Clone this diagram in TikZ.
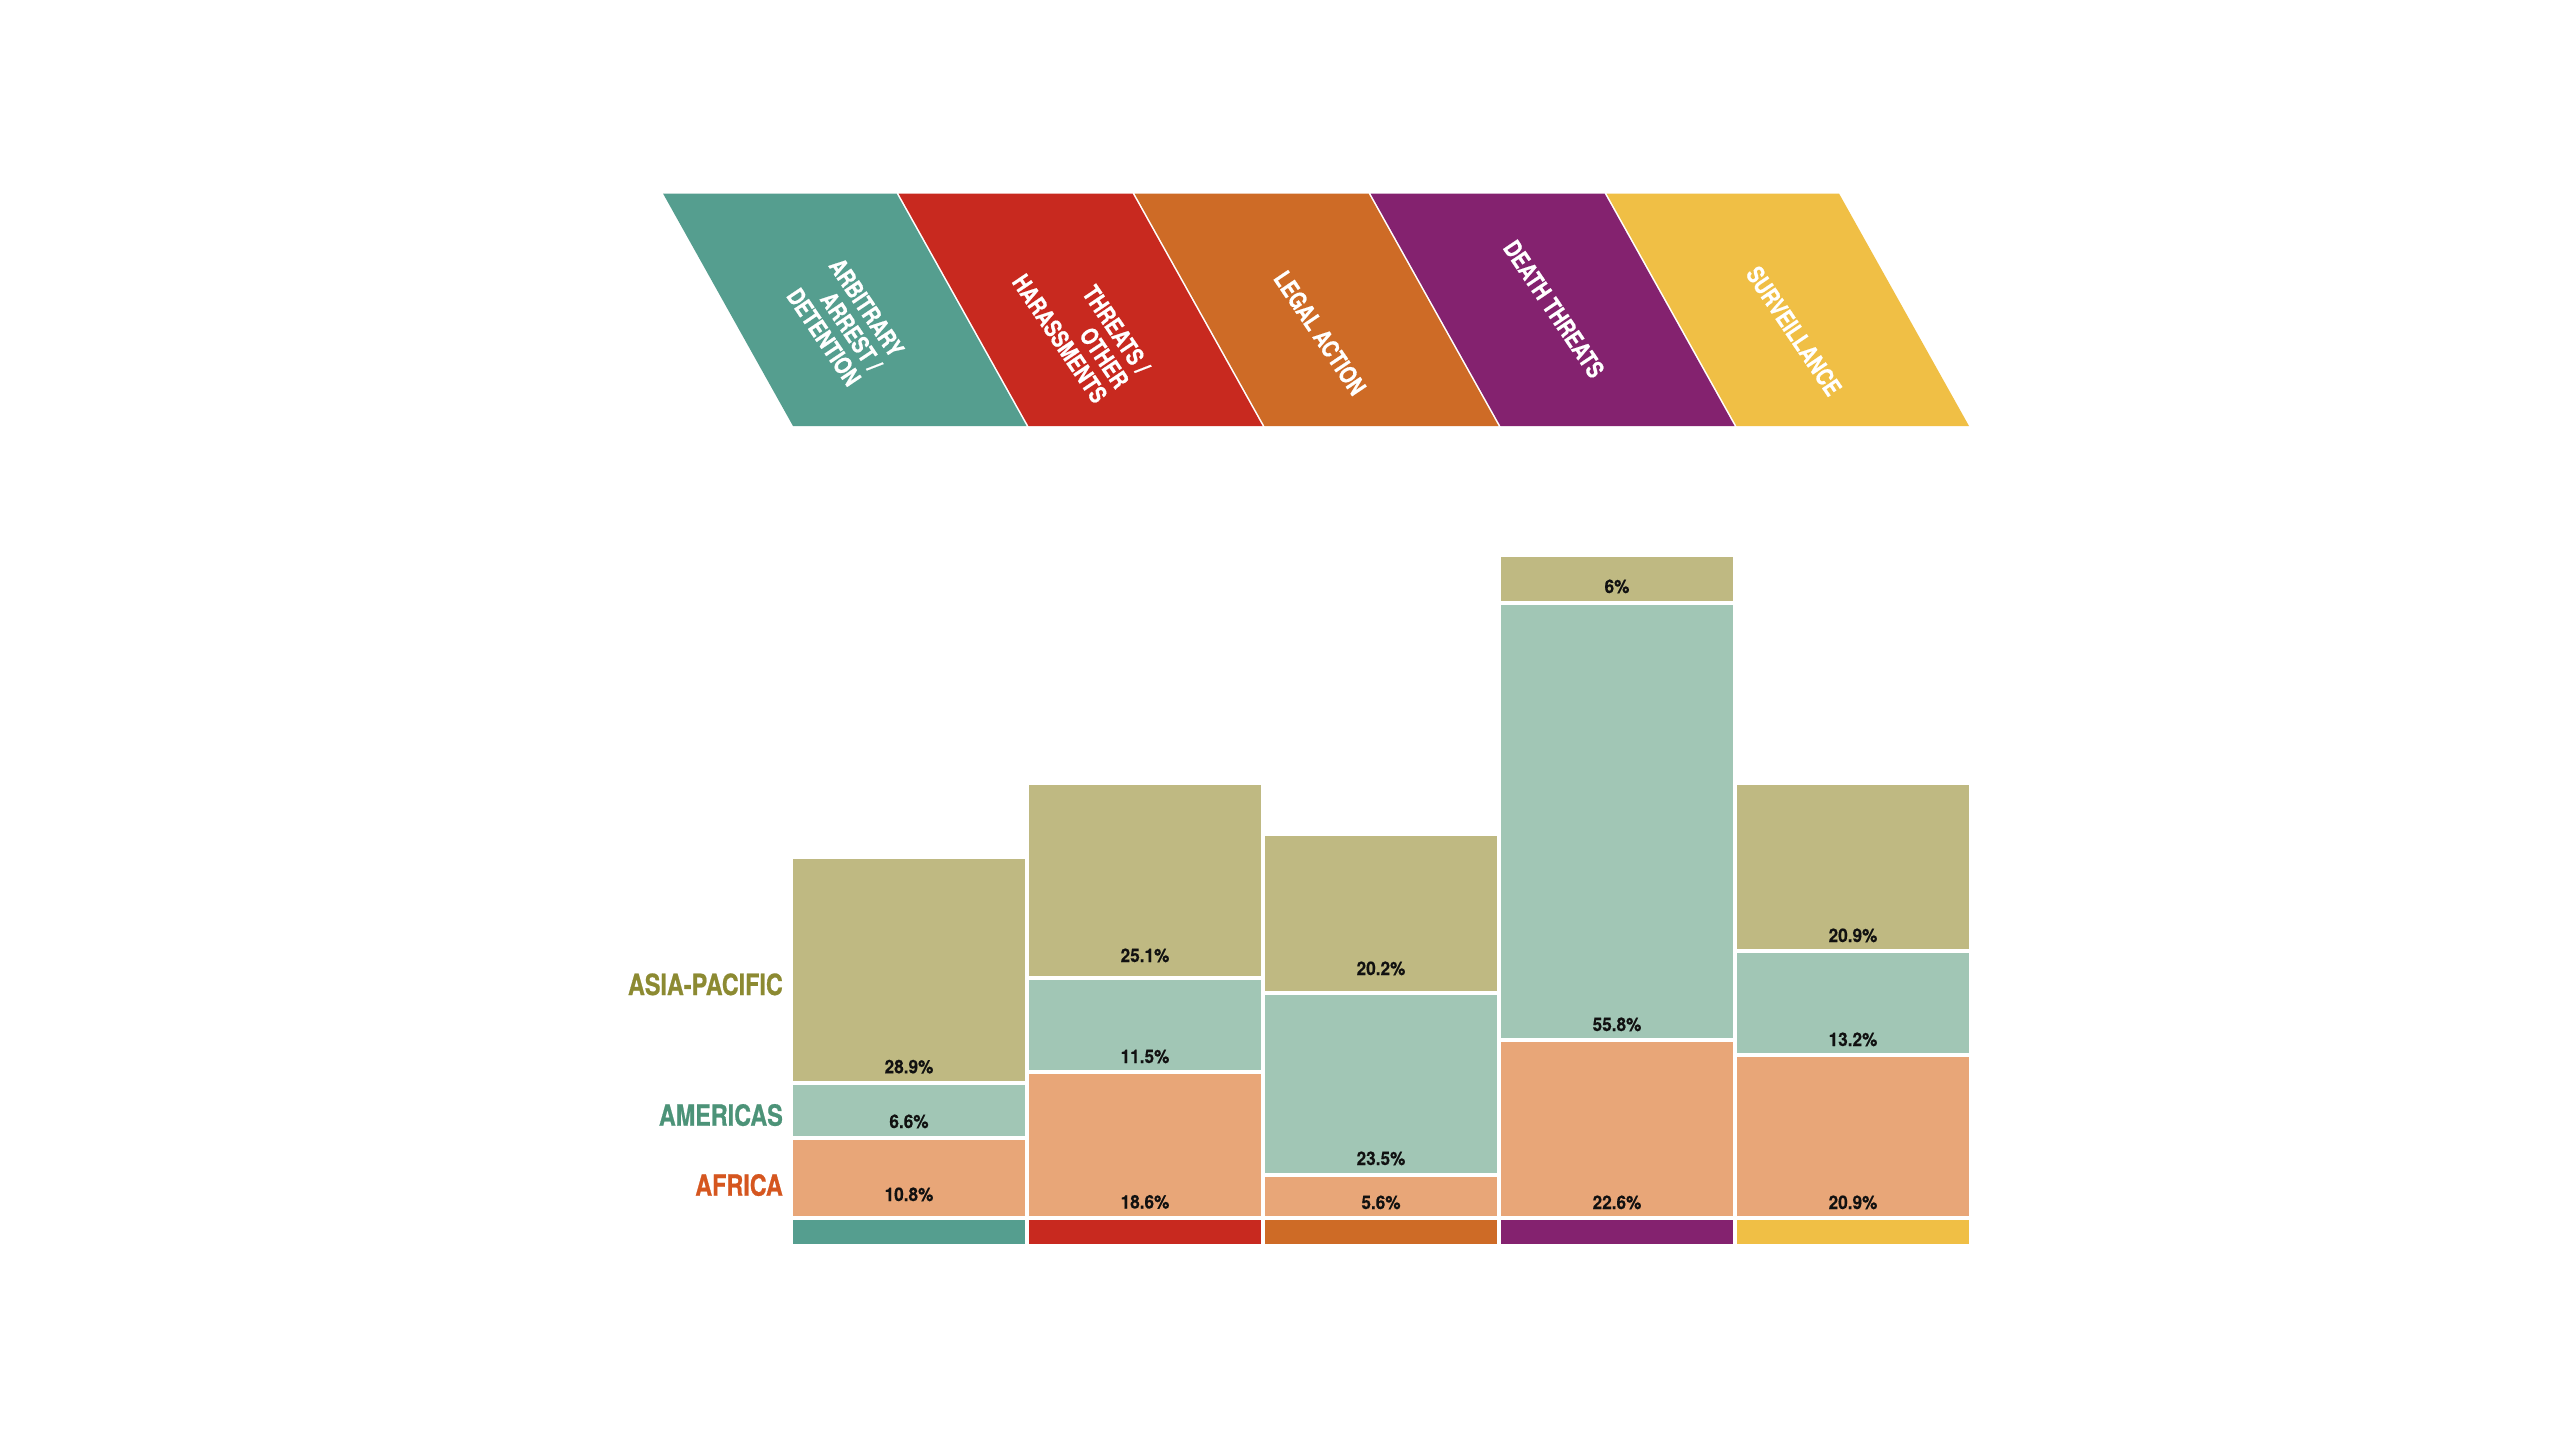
\documentclass[tikz,border=0pt]{standalone}
\usepackage{fontspec}
\newfontfamily\catfont[FakeStretch=0.8,BoldFeatures={FakeBold=0.7}]{TeX Gyre Heros}
\newfontfamily\pctfont[FakeStretch=0.92,BoldFeatures={FakeBold=0.3}]{TeX Gyre Heros}
\definecolor{cteal}{RGB}{85,158,143}
\definecolor{cred}{RGB}{200,41,31}
\definecolor{corange}{RGB}{206,107,38}
\definecolor{cpurple}{RGB}{132,34,111}
\definecolor{cyellow}{RGB}{240,191,69}
\definecolor{basia}{RGB}{191,185,130}
\definecolor{bamer}{RGB}{161,198,181}
\definecolor{bafr}{RGB}{232,166,120}
\definecolor{lasia}{RGB}{140,138,50}
\definecolor{lamer}{RGB}{76,147,120}
\definecolor{lafr}{RGB}{213,86,31}
\definecolor{pctblack}{RGB}{17,17,17}
\tikzset{
  pct/.style={font=\pctfont\bfseries\fontsize{18.7}{22}\selectfont, text=pctblack, inner sep=0pt, anchor=base},
  cat/.style={font=\catfont\bfseries\fontsize{24}{26}\selectfont, text=white, inner sep=0pt, rotate=-56, align=right},
  region/.style={font=\catfont\bfseries\fontsize{29.2}{32}\selectfont, inner sep=0pt, anchor=base east},
}
\begin{document}
\begin{tikzpicture}[x=1pt,y=-1pt]
\useasboundingbox (0,0) rectangle (2560,1440);
\fill[white] (0,0) rectangle (2560,1440);
% header parallelograms
\fill[cteal]   (793,426)    -- (1026.5,426) -- (896.5,193.5)  -- (663,193.5)   -- cycle;
\fill[cred]    (1028.5,426) -- (1262.5,426) -- (1132.5,193.5) -- (898.5,193.5) -- cycle;
\fill[corange] (1264.5,426) -- (1498.5,426) -- (1368.5,193.5) -- (1134.5,193.5) -- cycle;
\fill[cpurple] (1500.5,426) -- (1734.5,426) -- (1604.5,193.5) -- (1370.5,193.5) -- cycle;
\fill[cyellow] (1736.5,426) -- (1969,426)   -- (1839,193.5)   -- (1606.5,193.5) -- cycle;
\node[cat] (c1) at (845,322) {ARBITRARY\\ARREST /\\DETENTION};
\node[cat] (c2) at (1081.5,324) {THREATS /\\OTHER\\HARASSMENTS};
\node[cat] (c3) at (1320,333) {LEGAL ACTION};
\node[cat] (c4) at (1554,309) {DEATH THREATS};
\node[cat] (c5) at (1794,331) {SURVEILLANCE};
% column 1
\fill[basia] (793,859)  rectangle (1025,1081);
\fill[bamer] (793,1085) rectangle (1025,1136);
\fill[bafr]  (793,1140) rectangle (1025,1216);
\fill[cteal] (793,1220) rectangle (1025,1244);
% column 2
\fill[basia] (1029,785)  rectangle (1261,976);
\fill[bamer] (1029,980)  rectangle (1261,1070);
\fill[bafr]  (1029,1074) rectangle (1261,1216);
\fill[cred]  (1029,1220) rectangle (1261,1244);
% column 3
\fill[basia] (1265,836)  rectangle (1497,991);
\fill[bamer] (1265,995)  rectangle (1497,1173);
\fill[bafr]  (1265,1177) rectangle (1497,1216);
\fill[corange] (1265,1220) rectangle (1497,1244);
% column 4
\fill[basia] (1501,557)  rectangle (1733,601);
\fill[bamer] (1501,605)  rectangle (1733,1038);
\fill[bafr]  (1501,1042) rectangle (1733,1216);
\fill[cpurple] (1501,1220) rectangle (1733,1244);
% column 5
\fill[basia] (1737,785)  rectangle (1969,949);
\fill[bamer] (1737,953)  rectangle (1969,1053);
\fill[bafr]  (1737,1057) rectangle (1969,1216);
\fill[cyellow] (1737,1220) rectangle (1969,1244);
% percentages
\node[pct] (p11) at (909,1073.3) {28.9\%};
\node[pct] (p12) at (909,1128) {6.6\%};
\node[pct] (p13) at (909,1201) {10.8\%};
\node[pct] (p21) at (1145,962) {25.1\%};
\node[pct] (p22) at (1145,1063) {11.5\%};
\node[pct] (p23) at (1145,1208.5) {18.6\%};
\node[pct] (p31) at (1381,975) {20.2\%};
\node[pct] (p32) at (1381,1165) {23.5\%};
\node[pct] (p33) at (1381,1209) {5.6\%};
\node[pct] (p41) at (1617,593) {6\%};
\node[pct] (p42) at (1617,1031) {55.8\%};
\node[pct] (p43) at (1617,1209) {22.6\%};
\node[pct] (p51) at (1853,942) {20.9\%};
\node[pct] (p52) at (1853,1046) {13.2\%};
\node[pct] (p53) at (1853,1209) {20.9\%};
% region labels
\node[region, text=lasia] (rasia) at (783,995) {ASIA-PACIFIC};
\node[region, text=lamer] (ramer) at (783,1125.7) {AMERICAS};
\node[region, text=lafr]  (rafr)  at (783,1195.7) {AFRICA};
\end{tikzpicture}
\end{document}
